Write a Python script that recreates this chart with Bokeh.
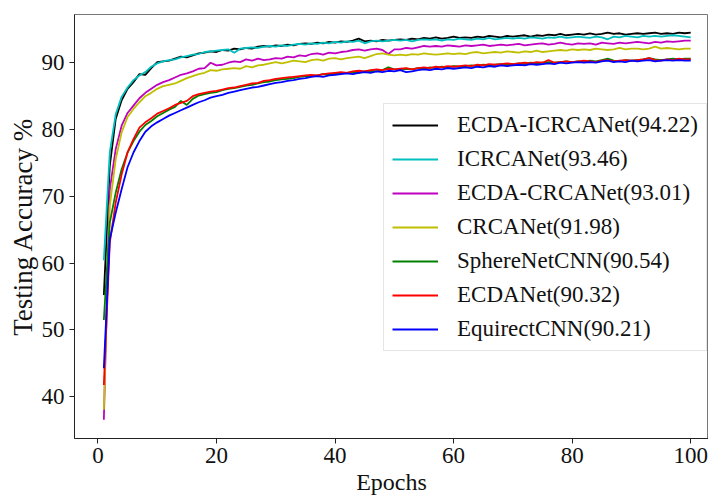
from bokeh.plotting import figure
from bokeh.models import Range1d, Legend, LegendItem, FixedTicker
from bokeh.embed import file_html
from bokeh.resources import INLINE

epochs = list(range(1, 101))

ecda_icrcanet = [
    55.2, 74.5, 81.5, 84.3, 86.0, 87.0, 88.2, 88.1, 89.1, 90.0,
    90.1, 90.2, 90.5, 90.8, 90.7, 91.0, 91.3, 91.4, 91.6, 91.5,
    91.8, 91.7, 92.0, 91.9, 92.1, 92.0, 92.3, 92.4, 92.3, 92.5,
    92.4, 92.6, 92.5, 92.7, 92.8, 92.7, 92.9, 92.8, 93.0, 92.9,
    93.1, 93.0, 93.2, 93.5, 93.1, 93.2, 93.1, 93.3, 93.2, 93.3,
    93.4, 93.3, 93.5, 93.4, 93.6, 93.5, 93.7, 93.5, 93.6, 93.8,
    93.6, 93.7, 93.6, 93.8, 93.7, 93.9, 93.8, 93.7, 93.9, 93.8,
    93.9, 94.0, 93.8, 94.0, 93.9, 94.1, 94.0, 94.2, 94.0, 94.1,
    94.2, 94.1, 94.3, 94.1, 94.2, 94.4, 94.2, 94.3, 94.1, 94.2,
    94.3, 94.2, 94.3, 94.4, 94.2, 94.3, 94.2, 94.4, 94.3, 94.4,
]
icrcanet = [
    60.4, 76.5, 82.2, 84.8, 86.2, 87.3, 88.0, 88.5, 89.3, 89.8,
    90.1, 90.3, 90.4, 90.7, 90.9, 91.1, 91.2, 91.5, 91.6, 91.7,
    91.8, 91.9, 91.4, 92.0, 92.1, 92.2, 92.1, 92.3, 92.4, 92.3,
    92.5, 92.4, 92.6, 92.7, 92.6, 92.8, 92.7, 92.9, 92.8, 93.0,
    92.9, 93.1, 93.0, 93.2, 92.8, 93.1, 93.2, 93.1, 93.2, 93.3,
    93.2, 93.3, 93.1, 93.3, 93.4, 93.3, 93.4, 93.2, 93.4, 93.3,
    93.5, 93.4, 93.3, 93.5, 93.4, 93.6, 93.4, 93.5, 93.6, 93.5,
    93.6, 93.5, 93.7, 93.6, 93.5, 93.7, 93.6, 93.8, 93.6, 93.7,
    93.8, 93.7, 93.6, 93.8, 93.7, 93.4, 93.8, 93.7, 93.9, 93.8,
    93.7, 93.9, 93.8, 93.9, 93.8, 93.9, 94.0, 93.9, 93.8, 93.7,
]
ecda_crcanet = [
    36.6, 71.0, 77.0, 80.5, 82.4, 83.5, 84.6, 85.4, 86.0, 86.6,
    87.0, 87.3, 87.7, 88.1, 88.3, 88.6, 89.0, 89.1, 89.9, 89.5,
    89.6, 89.9, 90.1, 90.0, 90.4, 90.2, 90.5, 90.3, 90.4, 90.6,
    90.5, 90.8, 90.7, 91.0, 90.9, 91.2, 91.3, 91.1, 91.4, 91.3,
    91.5, 91.6, 91.8, 91.9, 91.7, 91.9, 92.0, 91.8, 91.2, 91.9,
    91.9, 92.1, 92.0, 92.2, 92.4, 92.3, 92.4, 92.3, 92.5, 92.4,
    92.3, 92.5, 92.4, 92.5, 92.6, 92.4, 92.5, 92.6, 92.5, 92.6,
    92.7, 92.5, 92.6, 92.7, 92.8, 92.6, 92.7, 92.9, 92.7, 92.6,
    92.8, 92.7, 92.8, 92.6, 92.9, 92.8, 92.7, 92.9, 92.8, 92.9,
    93.0, 92.9, 92.8, 93.0, 92.9, 93.1, 93.0, 93.1, 93.2, 93.2,
]
crcanet = [
    38.1, 68.5, 75.5, 79.5, 81.8, 83.0, 84.0, 84.9, 85.4, 86.0,
    86.4, 86.6, 86.8, 87.2, 87.6, 87.9, 88.2, 88.4, 88.8, 88.7,
    88.9, 89.0, 89.1, 89.0, 89.4, 89.2, 89.5, 89.6, 89.8, 90.0,
    89.8, 90.0, 90.2, 90.1, 90.0, 90.3, 90.4, 90.2, 90.5, 90.6,
    90.4, 90.6, 90.7, 90.8, 90.6, 90.9, 91.2, 91.3, 91.1, 91.0,
    91.1, 91.0, 91.2, 91.1, 91.3, 91.2, 91.1, 91.2, 91.3, 91.2,
    91.3, 91.2, 91.4, 91.5, 91.3, 91.4, 91.5, 91.4, 91.6, 91.5,
    91.4, 91.6, 91.5, 91.7, 91.5, 91.6, 91.7, 91.8, 91.7, 91.9,
    91.8, 91.9, 91.8, 92.0, 91.9, 91.8, 91.9, 92.1, 91.9, 92.0,
    92.0, 91.9, 92.0, 92.3, 92.0, 92.1, 92.0, 91.9, 92.0, 92.0,
]
spherenetcnn = [
    51.5, 66.0, 70.5, 74.0, 76.5, 78.2, 79.6, 80.6, 81.2, 81.9,
    82.4, 82.9, 83.3, 84.2, 83.6, 84.5, 85.0, 85.2, 85.4, 85.5,
    85.8, 86.0, 86.1, 86.3, 86.5, 86.6, 86.8, 87.0, 87.1, 87.3,
    87.4, 87.5, 87.6, 87.8, 87.9, 87.9, 88.0, 88.2, 88.1, 88.3,
    88.3, 88.4, 88.5, 88.4, 88.6, 88.7, 88.6, 88.8, 89.2, 88.9,
    88.9, 89.0, 88.9, 89.1, 89.0, 89.2, 89.1, 89.3, 89.2, 89.4,
    89.3, 89.4, 89.5, 89.4, 89.6, 89.5, 89.6, 89.7, 89.6, 89.7,
    89.8, 89.7, 89.9, 89.8, 89.9, 90.0, 89.9, 90.0, 90.1, 90.0,
    90.1, 90.0, 90.2, 90.1, 90.3, 90.5, 90.2, 90.1, 90.3, 90.2,
    90.3, 90.4, 90.6, 90.4, 90.3, 90.4, 90.5, 90.4, 90.5, 90.5,
]
ecdanet = [
    41.8, 63.0, 69.0, 73.2, 76.5, 78.5, 80.2, 81.0, 81.6, 82.3,
    82.7, 83.1, 83.6, 83.9, 84.2, 84.9, 85.2, 85.4, 85.6, 85.7,
    85.9, 86.1, 86.2, 86.4, 86.6, 86.8, 86.9, 87.2, 87.3, 87.5,
    87.6, 87.7, 87.8, 87.9, 88.0, 88.1, 88.0, 88.2, 88.3, 88.4,
    88.5, 88.4, 88.6, 88.7, 88.6, 88.8, 88.9, 88.8, 89.0, 88.9,
    89.0, 89.1, 88.9, 89.1, 89.2, 89.1, 89.3, 89.2, 89.4, 89.3,
    89.4, 89.5, 89.4, 89.6, 89.5, 89.7, 89.6, 89.7, 89.8, 89.7,
    89.8, 89.9, 89.8, 90.0, 89.9, 90.3, 89.9, 90.0, 90.1, 90.0,
    90.1, 90.2, 90.1, 90.0, 90.2, 90.3, 90.1, 90.2, 90.3, 90.2,
    90.3, 90.4, 90.6, 90.3, 90.2, 90.4, 90.3, 90.5, 90.4, 90.4,
]
equirectcnn = [
    44.3, 63.5, 67.5, 71.0, 74.3, 76.5, 78.2, 79.6, 80.4, 81.0,
    81.5, 82.0, 82.4, 82.8, 83.2, 83.6, 84.0, 84.3, 84.7, 84.9,
    85.1, 85.4, 85.6, 85.8, 86.0, 86.2, 86.3, 86.5, 86.7, 86.9,
    87.0, 87.2, 87.3, 87.5, 87.6, 87.8, 87.9, 87.8, 88.0, 88.1,
    88.2, 88.3, 88.2, 88.4, 88.5, 88.4, 88.6, 88.5, 88.7, 88.6,
    88.8, 88.5, 88.6, 88.8, 88.9, 88.8, 89.0, 88.9, 89.1, 89.0,
    89.1, 89.2, 89.1, 89.3, 89.2, 89.4, 89.3, 89.5, 89.4, 89.5,
    89.6, 89.5, 89.7, 89.6, 89.7, 89.8, 89.7, 89.9, 89.8, 89.9,
    90.0, 89.9, 90.0, 89.9, 90.1, 90.2, 90.0, 90.1, 90.0, 90.2,
    90.1, 90.2, 90.3, 90.1, 90.2, 90.3, 90.2, 90.3, 90.2, 90.2,
]

series_names = [
    "ECDA-ICRCANet(94.22)", "ICRCANet(93.46)", "ECDA-CRCANet(93.01)",
    "CRCANet(91.98)", "SphereNetCNN(90.54)", "ECDANet(90.32)", "EquirectCNN(90.21)",
]
series_values = [ecda_icrcanet, icrcanet, ecda_crcanet, crcanet,
                 spherenetcnn, ecdanet, equirectcnn]
series_colors = ["#000000", "#00bfbf", "#bf00bf", "#bfbf00",
                 "#008000", "#ff0000", "#0000ff"]
x_ticks = [0, 20, 40, 60, 80, 100]
y_ticks = [40, 50, 60, 70, 80, 90]

FONT = "Liberation Serif"

p = figure(width=708, height=497, output_backend="svg", toolbar_location=None,
           x_range=Range1d(-3.95, 103.0), y_range=Range1d(33.8, 97.1),
           min_border_left=74, min_border_right=0, min_border_top=14,
           min_border_bottom=56)

items = []
for name, vals, col in zip(series_names, series_values, series_colors):
    r = p.line(epochs, vals, line_color=col, line_width=1.8)
    items.append(LegendItem(label=name, renderers=[r]))

p.xgrid.visible = False
p.ygrid.visible = False
p.outline_line_color = "#777777"
p.outline_line_width = 1

for ax in (p.xaxis[0], p.yaxis[0]):
    ax.major_label_text_font = FONT
    ax.major_label_text_font_size = "23px"
    ax.major_label_text_color = "#111111"
    ax.axis_label_text_font = FONT
    ax.axis_label_text_font_size = "24px"
    ax.axis_label_text_font_style = "normal"
    ax.axis_label_text_color = "#111111"
    ax.minor_tick_line_color = None
    ax.major_tick_in = 0
    ax.major_tick_out = 5
    ax.axis_line_color = "#222222"
    ax.major_tick_line_color = "#222222"

p.xaxis[0].ticker = FixedTicker(ticks=x_ticks)
p.yaxis[0].ticker = FixedTicker(ticks=y_ticks)
p.xaxis[0].axis_label = "Epochs"
p.yaxis[0].axis_label = "Testing Accuracy %"
p.yaxis[0].axis_label_text_font_size = "27px"
p.xaxis[0].axis_label_standoff = 3
p.yaxis[0].axis_label_standoff = 1
p.xaxis[0].major_label_standoff = 4
p.yaxis[0].major_label_standoff = 5

legend = Legend(items=items, location=(309, 87))
legend.label_text_font = FONT
legend.label_text_font_size = "23px"
legend.label_text_color = "#111111"
legend.label_height = 24
legend.glyph_height = 24
legend.glyph_width = 46
legend.label_standoff = 19
legend.spacing = 8
legend.padding = 8
legend.margin = 0
legend.border_line_color = "#cccccc"
legend.border_line_width = 1
legend.background_fill_alpha = 0.85
p.add_layout(legend, "center")

open("out.html", "w").write(file_html(p, INLINE))
